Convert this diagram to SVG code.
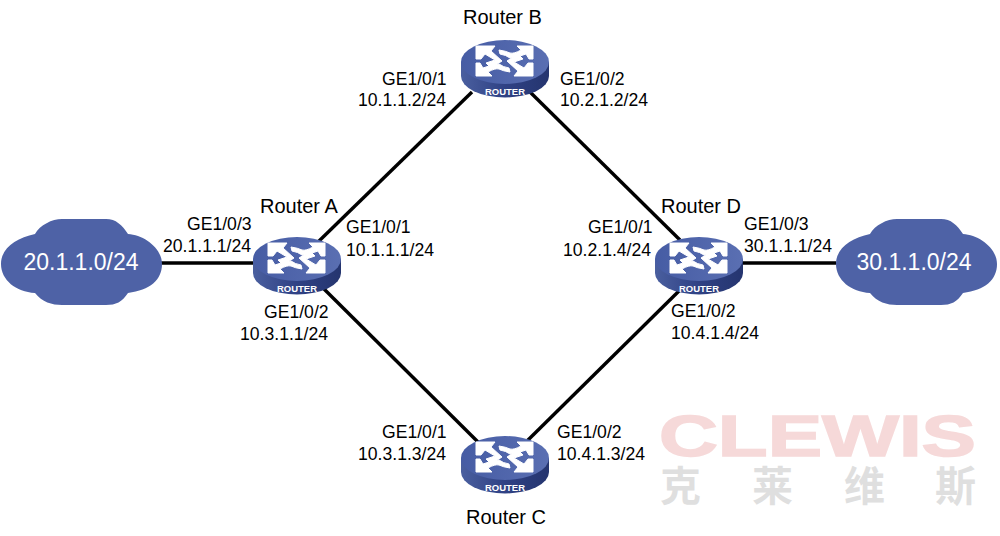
<svg xmlns="http://www.w3.org/2000/svg" width="1000" height="536" viewBox="0 0 1000 536">
<style>
text{font-family:"Liberation Sans",Arial,sans-serif;fill:#000}
.l{font-size:17.6px}
.n{font-size:20px}
.c{font-size:23px;fill:#fff;text-anchor:middle}
.r{font-size:9.500px;font-weight:bold;fill:#fff;text-anchor:middle}
.w{font-family:"Noto Sans CJK SC","Liberation Sans",sans-serif;font-size:41px;font-weight:700;fill:#dfdfdf}
.link{stroke:#000;stroke-width:3.4;fill:none}
.a{fill:#fff;stroke:#fff;stroke-width:1}
</style>
<defs>
<linearGradient id="side" x1="0" x2="1" y1="0" y2="0"><stop offset="0" stop-color="#4a5f9f"/><stop offset=".5" stop-color="#2f4184"/><stop offset="1" stop-color="#25356f"/></linearGradient>
<linearGradient id="top" x1="0" x2="1" y1="0" y2="0"><stop offset="0" stop-color="#465ca4"/><stop offset="1" stop-color="#5a6fb2"/></linearGradient>
<path id="a1" class="a" d="M-29-21H-10L-14-16L-3-6L-14 1L-19-4L-10-7L-20-13L-24-8L-29-8Z"/>
<path id="a2" class="a" d="M28-21H12L16-17Q9-13 5-14Q1-16-6-17L-5-13Q1-12 5-9Q14-10 21-13L24-8L28-8Z"/>
<g id="router">
<path d="M-44-5V9A44 21.500 0 0 0 44 9V-5Z" fill="url(#side)"/>
<ellipse cx="0" cy="-5" rx="44" ry="22" fill="url(#top)"/>
<use href="#a1"/><use href="#a1" transform="rotate(180 -.5 -6)"/>
<use href="#a2"/><use href="#a2" transform="rotate(180 -.5 -6)"/>
<text class="r" x="0" y="28">ROUTER</text>
</g>
<path id="cloud" d="M-81 2C-81-14-66-24-47-28C-42-37-30-43-20-43H24C34-43 40-37 46-28C62-27 80-14 80 2C80 18 68 28 46 31C40 40 34 43 24 43H-20C-30 43-40 40-47 31C-66 30-81 18-81 2Z" fill="#4e62a6"/>
</defs>
<g id="watermark">
<text x="659" y="456" font-size="58" font-weight="bold" stroke="#f6d9d9" stroke-width="1.500" style="fill:#f6d9d9" textLength="317" lengthAdjust="spacingAndGlyphs">CLEWIS</text>
<text class="w" x="660 752 844 935" y="501">克莱维斯</text>
</g>
<g id="connectors">
<path class="link" d="M160 263H255"/>
<path class="link" d="M740 263H836"/>
<path class="link" d="M318 242L472 92"/>
<path class="link" d="M530 92L680 240"/>
<path class="link" d="M320 285L478 442"/>
<path class="link" d="M682 288L526 442"/>
</g>
<g id="cloud-left"><use href="#cloud" x="82" y="262"/><text class="c" x="81" y="270">20.1.1.0/24</text></g>
<g id="cloud-right"><use href="#cloud" x="917" y="262"/><text class="c" x="914" y="270">30.1.1.0/24</text></g>
<g id="router-a"><use href="#router" x="297" y="264"/><text class="n" x="260" y="213">Router A</text></g>
<g id="router-b"><use href="#router" x="505" y="67"/><text class="n" x="463" y="24">Router B</text></g>
<g id="router-c"><use href="#router" x="505" y="463"/><text class="n" x="466" y="524">Router C</text></g>
<g id="router-d"><use href="#router" x="699" y="264"/><text class="n" x="661" y="213">Router D</text></g>
<g id="labels">
<text class="l" x="187" y="230">GE1/0/3</text><text class="l" x="163" y="252">20.1.1.1/24</text>
<text class="l" x="346" y="233">GE1/0/1</text><text class="l" x="346" y="256">10.1.1.1/24</text>
<text class="l" x="264" y="318">GE1/0/2</text><text class="l" x="240" y="340">10.3.1.1/24</text>
<text class="l" x="382" y="85">GE1/0/1</text><text class="l" x="358" y="106">10.1.1.2/24</text>
<text class="l" x="560" y="85">GE1/0/2</text><text class="l" x="560" y="106">10.2.1.2/24</text>
<text class="l" x="588" y="233">GE1/0/1</text><text class="l" x="563" y="256">10.2.1.4/24</text>
<text class="l" x="744" y="230">GE1/0/3</text><text class="l" x="744" y="252">30.1.1.1/24</text>
<text class="l" x="671" y="317">GE1/0/2</text><text class="l" x="671" y="339">10.4.1.4/24</text>
<text class="l" x="382" y="438">GE1/0/1</text><text class="l" x="358" y="460">10.3.1.3/24</text>
<text class="l" x="557" y="438">GE1/0/2</text><text class="l" x="557" y="460">10.4.1.3/24</text>
</g>
</svg>
